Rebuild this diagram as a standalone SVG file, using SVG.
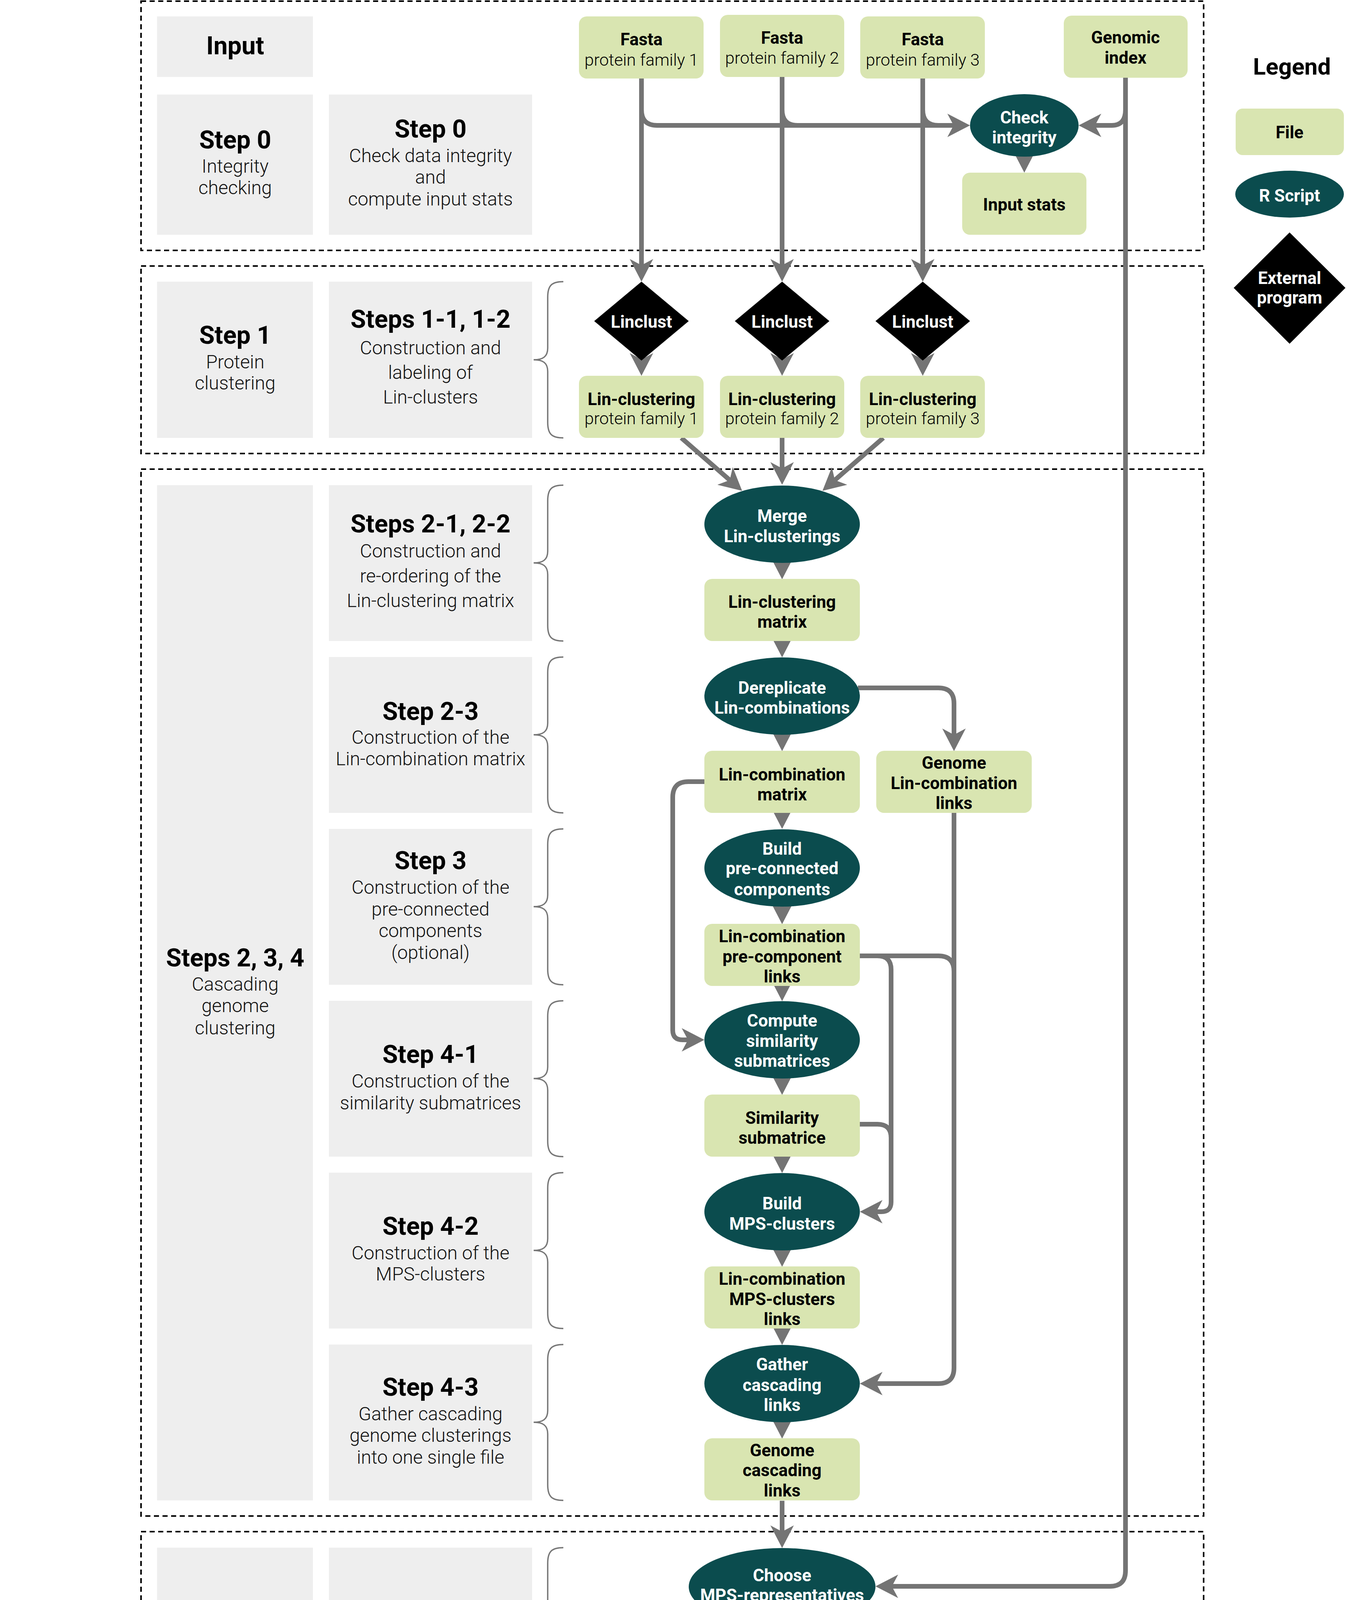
<svg xmlns="http://www.w3.org/2000/svg" width="3448" height="4484" viewBox="0 0 3448 4484">
<style>
.sec{fill:none;stroke:#000;stroke-width:4;stroke-dasharray:13 9}
.gb{fill:#eeeeee}
.brace{fill:none;stroke:#777;stroke-width:3.5}
.file{fill:#d9e5b1}
.rs{fill:#0b4c4e}
.ext{fill:#000}
.c{fill:none;stroke:#747474;stroke-width:12;marker-end:url(#ah)}
.cn{fill:none;stroke:#747474;stroke-width:12}
text{font-family:Roboto,"Liberation Sans",sans-serif;text-anchor:middle}
.h{font-weight:700;font-size:64px;fill:#000}
.b{font-weight:300;font-size:48px;fill:#111}
.n{font-weight:700;font-size:44px;fill:#000}
.nl{font-weight:300;font-size:43px;fill:#000}
.w{font-weight:700;font-size:44px;fill:#fff}
.lg{font-weight:700;font-size:60px;fill:#000}
</style>
<defs>
<marker id="ah" markerUnits="userSpaceOnUse" viewBox="0 0 58 60" markerWidth="58" markerHeight="60" refX="16" refY="30" orient="auto">
<path d="M0,0 L58,30 L0,60 L16,30 Z" fill="#747474"/>
</marker>
</defs>

<g id="sections">
<rect class="sec" x="361" y="3" width="2720" height="638"/>
<rect class="sec" x="361" y="681" width="2720" height="480"/>
<rect class="sec" x="361" y="1201" width="2720" height="2680"/>
<rect class="sec" x="361" y="3921" width="2720" height="558"/>
</g>

<g id="steps">
<rect class="gb" x="402" y="42" width="399" height="155"/>
<text class="h" x="602" y="139">Input</text>

<rect class="gb" x="402" y="242" width="399" height="359"/>
<text class="h" x="602" y="380">Step 0</text>
<text class="b" x="602" y="442">Integrity</text>
<text class="b" x="602" y="497">checking</text>

<rect class="gb" x="842" y="242" width="520" height="359"/>
<text class="h" x="1102" y="352">Step 0</text>
<text class="b" x="1102" y="415">Check data integrity</text>
<text class="b" x="1102" y="470">and</text>
<text class="b" x="1102" y="526">compute input stats</text>

<rect class="gb" x="402" y="721" width="399" height="400"/>
<text class="h" x="602" y="880">Step 1</text>
<text class="b" x="602" y="943">Protein</text>
<text class="b" x="602" y="997">clustering</text>

<rect class="gb" x="842" y="721" width="520" height="400"/>
<text class="h" x="1102" y="839">Steps 1-1, 1-2</text>
<text class="b" x="1102" y="907">Construction and</text>
<text class="b" x="1102" y="970">labeling of</text>
<text class="b" x="1102" y="1033">Lin-clusters</text>

<rect class="gb" x="402" y="1242" width="399" height="2599"/>
<text class="h" x="602" y="2474">Steps 2, 3, 4</text>
<text class="b" x="602" y="2536">Cascading</text>
<text class="b" x="602" y="2591">genome</text>
<text class="b" x="602" y="2648">clustering</text>

<rect class="gb" x="842" y="1242" width="520" height="399"/>
<text class="h" x="1102" y="1363">Steps 2-1, 2-2</text>
<text class="b" x="1102" y="1427">Construction and</text>
<text class="b" x="1102" y="1491">re-ordering of the</text>
<text class="b" x="1102" y="1554">Lin-clustering matrix</text>

<rect class="gb" x="842" y="1682" width="520" height="399"/>
<text class="h" x="1102" y="1843">Step 2-3</text>
<text class="b" x="1102" y="1904">Construction of the</text>
<text class="b" x="1102" y="1959">Lin-combination matrix</text>

<rect class="gb" x="842" y="2122" width="520" height="399"/>
<text class="h" x="1102" y="2225">Step 3</text>
<text class="b" x="1102" y="2288">Construction of the</text>
<text class="b" x="1102" y="2344">pre-connected</text>
<text class="b" x="1102" y="2399">components</text>
<text class="b" x="1102" y="2455">(optional)</text>

<rect class="gb" x="842" y="2562" width="520" height="399"/>
<text class="h" x="1102" y="2721">Step 4-1</text>
<text class="b" x="1102" y="2784">Construction of the</text>
<text class="b" x="1102" y="2840">similarity submatrices</text>

<rect class="gb" x="842" y="3002" width="520" height="399"/>
<text class="h" x="1102" y="3161">Step 4-2</text>
<text class="b" x="1102" y="3224">Construction of the</text>
<text class="b" x="1102" y="3278">MPS-clusters</text>

<rect class="gb" x="842" y="3442" width="520" height="399"/>
<text class="h" x="1102" y="3573">Step 4-3</text>
<text class="b" x="1102" y="3636">Gather cascading</text>
<text class="b" x="1102" y="3691">genome clusterings</text>
<text class="b" x="1102" y="3747">into one single file</text>

<rect class="gb" x="402" y="3962" width="399" height="479"/>
<text class="h" x="600" y="4159">Step 5</text>
<text class="b" x="600" y="4223">Genome</text>
<text class="b" x="600" y="4279">sampling</text>

<rect class="gb" x="842" y="3962" width="520" height="479"/>
<text class="h" x="1102" y="4159">Step 5</text>
<text class="b" x="1102" y="4223">Selection of</text>
<text class="b" x="1102" y="4279">MPS-representatives</text>
</g>

<g id="braces">
<path class="brace" d="M1442,721 C1412,721 1402,731 1402,761 V891 C1402,913 1390,921 1366,921 C1390,921 1402,929 1402,951 V1081 C1402,1111 1412,1121 1442,1121"/>
<path class="brace" d="M1442,1242 C1412,1242 1402,1252 1402,1282 V1411 C1402,1433 1390,1441 1366,1441 C1390,1441 1402,1449 1402,1471 V1601 C1402,1631 1412,1641 1442,1641"/>
<path class="brace" d="M1442,1682 C1412,1682 1402,1692 1402,1722 V1851 C1402,1873 1390,1881 1366,1881 C1390,1881 1402,1889 1402,1911 V2041 C1402,2071 1412,2081 1442,2081"/>
<path class="brace" d="M1442,2122 C1412,2122 1402,2132 1402,2162 V2291 C1402,2313 1390,2321 1366,2321 C1390,2321 1402,2329 1402,2351 V2481 C1402,2511 1412,2521 1442,2521"/>
<path class="brace" d="M1442,2562 C1412,2562 1402,2572 1402,2602 V2731 C1402,2753 1390,2761 1366,2761 C1390,2761 1402,2769 1402,2791 V2921 C1402,2951 1412,2961 1442,2961"/>
<path class="brace" d="M1442,3002 C1412,3002 1402,3012 1402,3042 V3171 C1402,3193 1390,3201 1366,3201 C1390,3201 1402,3209 1402,3231 V3361 C1402,3391 1412,3401 1442,3401"/>
<path class="brace" d="M1442,3442 C1412,3442 1402,3452 1402,3482 V3611 C1402,3633 1390,3641 1366,3641 C1390,3641 1402,3649 1402,3671 V3801 C1402,3831 1412,3841 1442,3841"/>
<path class="brace" d="M1442,3962 C1412,3962 1402,3972 1402,4002 V4171 C1402,4193 1390,4201 1366,4201 C1390,4201 1402,4209 1402,4231 V4401 C1402,4431 1412,4441 1442,4441"/>
</g>

<g id="connectors">
<path class="c" d="M1642,201 V679"/>
<path class="c" d="M2002,197 V679"/>
<path class="c" d="M2362,201 V679"/>
<path class="c" d="M1642,281 Q1642,321 1682,321 H2441"/>
<path class="cn" d="M2002,281 Q2002,321 2042,321"/>
<path class="cn" d="M2362,281 Q2362,321 2402,321"/>
<path class="c" d="M2881,281 Q2881,321 2846,321 H2803"/>
<path class="c" d="M2881,199 V4021 Q2881,4061 2841,4061 H2283"/>
<path class="c" d="M2622,360 V400"/>
<path class="c" d="M1642,880 V920"/>
<path class="c" d="M2002,880 V920"/>
<path class="c" d="M2362,880 V920"/>
<path class="c" d="M1744,1121 L1868,1229"/>
<path class="c" d="M2002,1121 V1199"/>
<path class="c" d="M2261,1121 L2137,1229"/>
<path class="c" d="M2002,1400 V1441"/>
<path class="c" d="M2002,1600 V1641"/>
<path class="c" d="M2002,1840 V1881"/>
<path class="c" d="M2002,2040 V2080"/>
<path class="c" d="M2002,2280 V2324"/>
<path class="c" d="M2002,2480 V2521"/>
<path class="c" d="M2002,2720 V2761"/>
<path class="c" d="M2002,2920 V2961"/>
<path class="c" d="M2002,3160 V3201"/>
<path class="c" d="M2002,3360 V3401"/>
<path class="c" d="M2002,3600 V3641"/>
<path class="c" d="M2002,3842 V3921"/>
<path class="c" d="M2002,4160 V4241"/>
<path class="c" d="M2002,4165 V4177 Q2002,4202 2027,4202 H2457 Q2482,4202 2482,4227 V4241"/>
<path class="c" d="M2196,1761 H2402 Q2442,1761 2442,1801 V1881"/>
<path class="c" d="M1803,2001 H1762 Q1722,2001 1722,2041 V2637 Q1722,2662 1747,2662 H1761"/>
<path class="c" d="M2442,2081 V3502 Q2442,3542 2402,3542 H2243"/>
<path class="cn" d="M2201,2447 H2402 Q2442,2447 2442,2487"/>
<path class="c" d="M2201,2447 H2246 Q2281,2447 2281,2482 V3077 Q2281,3102 2256,3102 H2243"/>
<path class="cn" d="M2201,2878 H2246 Q2281,2878 2281,2913"/>
</g>

<g id="n-fasta1"><rect class="file" x="1482" y="42" width="319" height="159" rx="20"/><text class="n" x="1642" y="116">Fasta</text><text class="nl" x="1642" y="168">protein family 1</text></g>
<g id="n-fasta2"><rect class="file" x="1843" y="38" width="318" height="159" rx="20"/><text class="n" x="2002" y="112">Fasta</text><text class="nl" x="2002" y="163">protein family 2</text></g>
<g id="n-fasta3"><rect class="file" x="2202" y="42" width="319" height="159" rx="20"/><text class="n" x="2362" y="116">Fasta</text><text class="nl" x="2362" y="168">protein family 3</text></g>
<g id="n-genomic"><rect class="file" x="2723" y="40" width="317" height="159" rx="20"/><text class="n" x="2881" y="111">Genomic</text><text class="n" x="2881" y="163">index</text></g>
<g id="n-check"><ellipse class="rs" cx="2622" cy="321" rx="139" ry="80"/><text class="w" x="2622" y="316">Check</text><text class="w" x="2622" y="367">integrity</text></g>
<g id="n-inputstats"><rect class="file" x="2463" y="442" width="318" height="159" rx="20"/><text class="n" x="2622" y="539">Input stats</text></g>

<g id="n-linclust1"><path class="ext" d="M1642,721 L1763,822 L1642,923 L1521,822 Z"/><text class="w" x="1642" y="839">Linclust</text></g>
<g id="n-linclust2"><path class="ext" d="M2002,721 L2123,822 L2002,923 L1881,822 Z"/><text class="w" x="2002" y="839">Linclust</text></g>
<g id="n-linclust3"><path class="ext" d="M2362,721 L2483,822 L2362,923 L2241,822 Z"/><text class="w" x="2362" y="839">Linclust</text></g>
<g id="n-lc1"><rect class="file" x="1482" y="962" width="319" height="159" rx="20"/><text class="n" x="1642" y="1037">Lin-clustering</text><text class="nl" x="1642" y="1086">protein family 1</text></g>
<g id="n-lc2"><rect class="file" x="1843" y="962" width="318" height="159" rx="20"/><text class="n" x="2002" y="1037">Lin-clustering</text><text class="nl" x="2002" y="1086">protein family 2</text></g>
<g id="n-lc3"><rect class="file" x="2202" y="962" width="319" height="159" rx="20"/><text class="n" x="2362" y="1037">Lin-clustering</text><text class="nl" x="2362" y="1086">protein family 3</text></g>

<g id="n-merge"><ellipse class="rs" cx="2002" cy="1342" rx="199" ry="99"/><text class="w" x="2002" y="1336">Merge</text><text class="w" x="2002" y="1388">Lin-clusterings</text></g>
<g id="n-lcmatrix"><rect class="file" x="1803" y="1482" width="398" height="159" rx="20"/><text class="n" x="2002" y="1556">Lin-clustering</text><text class="n" x="2002" y="1607">matrix</text></g>
<g id="n-dereplicate"><ellipse class="rs" cx="2002" cy="1782" rx="199" ry="99"/><text class="w" x="2002" y="1776">Dereplicate</text><text class="w" x="2002" y="1827">Lin-combinations</text></g>
<g id="n-lcombmatrix"><rect class="file" x="1803" y="1922" width="398" height="159" rx="20"/><text class="n" x="2002" y="1998">Lin-combination</text><text class="n" x="2002" y="2049">matrix</text></g>
<g id="n-genomelcomb"><rect class="file" x="2243" y="1922" width="398" height="159" rx="20"/><text class="n" x="2442" y="1968">Genome</text><text class="n" x="2442" y="2020">Lin-combination</text><text class="n" x="2442" y="2071">links</text></g>
<g id="n-buildpre"><ellipse class="rs" cx="2002" cy="2222" rx="199" ry="99"/><text class="w" x="2002" y="2188">Build</text><text class="w" x="2002" y="2238">pre-connected</text><text class="w" x="2002" y="2292">components</text></g>
<g id="n-precomp"><rect class="file" x="1803" y="2365" width="398" height="159" rx="20"/><text class="n" x="2002" y="2412">Lin-combination</text><text class="n" x="2002" y="2464">pre-component</text><text class="n" x="2002" y="2515">links</text></g>
<g id="n-compute"><ellipse class="rs" cx="2002" cy="2662" rx="199" ry="99"/><text class="w" x="2002" y="2628">Compute</text><text class="w" x="2002" y="2680">similarity</text><text class="w" x="2002" y="2731">submatrices</text></g>
<g id="n-simsub"><rect class="file" x="1803" y="2802" width="398" height="159" rx="20"/><text class="n" x="2002" y="2877">Similarity</text><text class="n" x="2002" y="2928">submatrice</text></g>
<g id="n-buildmps"><ellipse class="rs" cx="2002" cy="3102" rx="199" ry="99"/><text class="w" x="2002" y="3096">Build</text><text class="w" x="2002" y="3148">MPS-clusters</text></g>
<g id="n-mpsclinks"><rect class="file" x="1803" y="3242" width="398" height="159" rx="20"/><text class="n" x="2002" y="3289">Lin-combination</text><text class="n" x="2002" y="3341">MPS-clusters</text><text class="n" x="2002" y="3392">links</text></g>
<g id="n-gather"><ellipse class="rs" cx="2002" cy="3542" rx="199" ry="99"/><text class="w" x="2002" y="3508">Gather</text><text class="w" x="2002" y="3561">cascading</text><text class="w" x="2002" y="3612">links</text></g>
<g id="n-genomecasc"><rect class="file" x="1803" y="3682" width="398" height="159" rx="20"/><text class="n" x="2002" y="3728">Genome</text><text class="n" x="2002" y="3779">cascading</text><text class="n" x="2002" y="3831">links</text></g>
<g id="n-choose"><ellipse class="rs" cx="2002" cy="4062" rx="239" ry="99"/><text class="w" x="2002" y="4048">Choose</text><text class="w" x="2002" y="4099">MPS-representatives</text></g>
<g id="n-mpsrep"><rect class="file" x="1762" y="4283" width="479" height="158" rx="20"/><text class="n" x="2002" y="4381">MPS-representatives</text></g>
<g id="n-mpslinks"><rect class="file" x="2282" y="4283" width="399" height="158" rx="20"/><text class="n" x="2482" y="4381">MPS-links</text></g>

<g id="legend">
<text class="lg" x="3307" y="191">Legend</text>
<rect class="file" x="3163" y="278" width="277" height="119" rx="18"/>
<text class="n" x="3301" y="354">File</text>
<ellipse class="rs" cx="3301" cy="497" rx="139" ry="60"/>
<text class="w" x="3301" y="516">R Script</text>
<path class="ext" d="M3301,595 L3444,737 L3301,880 L3158,737 Z"/>
<text class="w" x="3301" y="727">External</text>
<text class="w" x="3301" y="777">program</text>
</g>
</svg>
